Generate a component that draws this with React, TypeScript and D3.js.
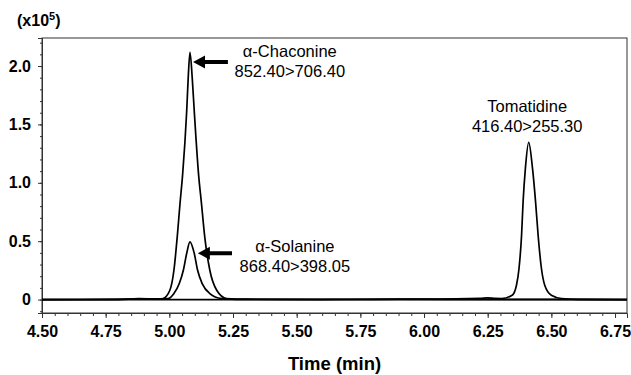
import * as d3 from "d3";
import React, { useEffect, useRef } from "react";

// Chromatogram traces (time in min, intensity in x10^5)
const chaconineTime = [4.5, 4.8, 4.88, 4.95, 4.975, 5.002, 5.018, 5.031, 5.042, 5.052, 5.068, 5.074, 5.081, 5.09, 5.098, 5.115, 5.126, 5.139, 5.159, 5.186, 5.225, 5.3, 5.6, 5.9, 6.2, 6.797];
const chaconineValue = [0, 0, 0.008, 0.003, 0.009, 0.08, 0.251, 0.537, 0.826, 1.066, 1.608, 1.894, 2.117, 1.894, 1.608, 1.066, 0.826, 0.537, 0.251, 0.08, 0.009, 0.003, 0, 0.003, 0.002, 0];

const solanineTime = [4.5, 4.85, 4.93, 4.996, 5.018, 5.039, 5.055, 5.068, 5.081, 5.098, 5.111, 5.129, 5.159, 5.205, 5.26, 5.5, 5.8, 6.2, 6.797];
const solanineValue = [0, 0.003, 0.006, 0.009, 0.051, 0.137, 0.251, 0.394, 0.494, 0.394, 0.251, 0.137, 0.051, 0.009, 0.002, 0.002, 0, 0, 0];

const tomatidineTime = [4.5, 5.5, 6.0, 6.22, 6.25, 6.28, 6.304, 6.346, 6.363, 6.373, 6.383, 6.389, 6.398, 6.411, 6.426, 6.438, 6.448, 6.461, 6.474, 6.5, 6.54, 6.6, 6.797];
const tomatidineValue = [0, 0, 0.003, 0.01, 0.015, 0.01, 0.009, 0.037, 0.123, 0.266, 0.551, 0.837, 1.123, 1.346, 1.123, 0.837, 0.551, 0.266, 0.123, 0.037, 0.009, 0.002, 0];

const xTicks = [4.5, 4.75, 5.0, 5.25, 5.5, 5.75, 6.0, 6.25, 6.5, 6.75];
const yTicks = [0, 0.5, 1.0, 1.5, 2.0];
const yTickLabels = ["0", "0.5", "1.0", "1.5", "2.0"];

// peak annotations: label lines, label anchor (time, value), arrow tip / tail
const labelLines = [
  ["α-Chaconine", "852.40>706.40"],
  ["α-Solanine", "868.40>398.05"],
  ["Tomatidine", "416.40>255.30"],
];
const labelTime = [5.473, 5.493, 6.405];
const labelValue = [2.077, 0.405, 1.606];
const arrowTip: ([number, number] | null)[] = [[5.093, 2.034], [5.112, 0.397], null];
const arrowTail: ([number, number] | null)[] = [[5.23, 2.034], [5.246, 0.397], null];

export default function App() {
  const svgRef = useRef<SVGSVGElement>(null);

  useEffect(() => {
    if (!svgRef.current) return;
    const width = 631;
    const height = 375;
    const marginLeft = 42;
    const marginRight = 4;
    const marginTop = 38;
    const marginBottom = 62;

    const x = d3.scaleLinear([4.5, 6.797], [marginLeft, width - marginRight]);
    const y = d3.scaleLinear([-0.115, 2.24], [height - marginBottom, marginTop]);

    const svg = d3.select(svgRef.current);
    svg.selectAll("*").remove();

    // frame
    svg
      .append("rect")
      .attr("x", marginLeft)
      .attr("y", marginTop)
      .attr("width", width - marginLeft - marginRight)
      .attr("height", height - marginTop - marginBottom)
      .attr("fill", "none")
      .attr("stroke", "#333")
      .attr("stroke-width", 1);

    // x axis
    const xAxis = d3
      .axisBottom<number>(x)
      .tickValues(xTicks)
      .tickSize(5)
      .tickFormat((d) => d3.format(".2f")(d));
    svg
      .append("g")
      .attr("transform", `translate(0,${height - marginBottom})`)
      .call(xAxis)
      .call((g) => g.select(".domain").attr("stroke", "#333"))
      .call((g) => g.selectAll(".tick line").attr("stroke", "#333"))
      .call((g) =>
        g
          .selectAll(".tick text")
          .attr("dy", 0)
          .attr("y", 24)
          .attr("font-size", 16)
          .attr("font-weight", "bold")
          .attr("font-family", "Liberation Sans, Arial, sans-serif")
          .attr("fill", "#000")
      );
    svg
      .append("g")
      .attr("transform", `translate(0,${height - marginBottom})`)
      .call(
        d3
          .axisBottom<number>(x)
          .tickValues(d3.range(91).map((i) => 4.5 + i * 0.05).filter((v) => v <= 6.797))
          .tickSize(3)
          .tickFormat(() => "")
      )
      .call((g) => g.select(".domain").remove())
      .call((g) => g.selectAll(".tick line").attr("stroke", "#333"));

    // y axis
    const yAxis = d3
      .axisLeft<number>(y)
      .tickValues(yTicks)
      .tickSize(4)
      .tickFormat((_, i) => yTickLabels[i]);
    svg
      .append("g")
      .attr("transform", `translate(${marginLeft},0)`)
      .call(yAxis)
      .call((g) => g.select(".domain").attr("stroke", "#333"))
      .call((g) => g.selectAll(".tick line").attr("stroke", "#333"))
      .call((g) =>
        g
          .selectAll(".tick text")
          .attr("x", -11)
          .attr("font-size", 16)
          .attr("font-weight", "bold")
          .attr("font-family", "Liberation Sans, Arial, sans-serif")
          .attr("fill", "#000")
      );
    svg
      .append("g")
      .attr("transform", `translate(${marginLeft},0)`)
      .call(
        d3
          .axisLeft<number>(y)
          .tickValues(d3.range(-1, 23).map((i) => i * 0.1))
          .tickSize(2)
          .tickFormat(() => "")
      )
      .call((g) => g.select(".domain").remove())
      .call((g) => g.selectAll(".tick line").attr("stroke", "#333"));

    // traces
    const line = d3
      .line<[number, number]>()
      .x((d) => x(d[0]))
      .y((d) => y(d[1]))
      .curve(d3.curveMonotoneX);
    const traces: [number[], number[]][] = [
      [chaconineTime, chaconineValue],
      [solanineTime, solanineValue],
      [tomatidineTime, tomatidineValue],
    ];
    traces.forEach(([t, v]) => {
      svg
        .append("path")
        .attr("d", line(t.map((ti, i) => [ti, v[i]] as [number, number])))
        .attr("fill", "none")
        .attr("stroke", "#000")
        .attr("stroke-width", 1.7);
    });

    // annotations
    labelLines.forEach((lines, i) => {
      const tx = svg
        .append("text")
        .attr("x", x(labelTime[i]))
        .attr("y", y(labelValue[i]))
        .attr("text-anchor", "middle")
        .attr("font-size", 16.5)
        .attr("font-family", "Liberation Sans, Arial, sans-serif")
        .attr("fill", "#000");
      lines.forEach((l, j) => {
        tx.append("tspan")
          .attr("x", x(labelTime[i]))
          .attr("dy", j === 0 ? 0 : 20)
          .text(l);
      });
      const tip = arrowTip[i];
      const tail = arrowTail[i];
      if (tip && tail) {
        const x0 = x(tip[0]);
        const y0 = y(tip[1]);
        const x1 = x(tail[0]);
        svg
          .append("path")
          .attr(
            "d",
            `M${x0},${y0} L${x0 + 12},${y0 - 6.5} L${x0 + 12},${y0 - 2} L${x1},${y0 - 2} L${x1},${y0 + 2} L${x0 + 12},${y0 + 2} L${x0 + 12},${y0 + 6.5} Z`
          )
          .attr("fill", "#000");
      }
    });

    // unit label
    const unit = svg
      .append("text")
      .attr("x", 17)
      .attr("y", 26)
      .attr("font-size", 16)
      .attr("font-weight", "bold")
      .attr("font-family", "Liberation Sans, Arial, sans-serif")
      .attr("fill", "#000");
    unit.append("tspan").text("(x10");
    unit.append("tspan").attr("font-size", 11).attr("dy", -6).text("5");
    unit.append("tspan").attr("dy", 6).text(")");

    // x title
    svg
      .append("text")
      .attr("x", (marginLeft + width - marginRight) / 2)
      .attr("y", 370)
      .attr("text-anchor", "middle")
      .attr("font-size", 18.5)
      .attr("font-weight", "bold")
      .attr("font-family", "Liberation Sans, Arial, sans-serif")
      .attr("fill", "#000")
      .text("Time (min)");
  }, []);

  return (
    <svg
      ref={svgRef}
      width={631}
      height={375}
      style={{ position: "absolute", left: 0, top: 0, background: "#fff" }}
    />
  );
}
